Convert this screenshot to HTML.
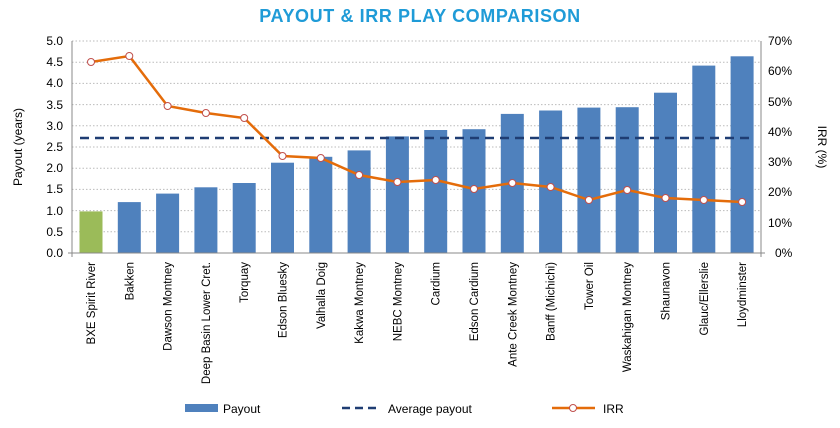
<!DOCTYPE html>
<html><head><meta charset="utf-8"><style>
body{margin:0;background:#fff;}
svg text{font-family:"Liberation Sans",sans-serif;}
</style></head><body>
<svg width="840" height="423" xmlns="http://www.w3.org/2000/svg">
<text x="420" y="22" text-anchor="middle" font-size="18" font-weight="bold" fill="#1f9bd7" letter-spacing="0.6">PAYOUT &amp; IRR PLAY COMPARISON</text>
<g id="grid" stroke="#bbb" stroke-dasharray="1.5,2" stroke-width="1">
<line x1="72" x2="761" y1="41" y2="41"/><line x1="72" x2="761" y1="62.2" y2="62.2"/><line x1="72" x2="761" y1="83.4" y2="83.4"/><line x1="72" x2="761" y1="104.6" y2="104.6"/><line x1="72" x2="761" y1="125.8" y2="125.8"/><line x1="72" x2="761" y1="147" y2="147"/><line x1="72" x2="761" y1="168.2" y2="168.2"/><line x1="72" x2="761" y1="189.4" y2="189.4"/><line x1="72" x2="761" y1="210.6" y2="210.6"/><line x1="72" x2="761" y1="231.8" y2="231.8"/>
</g>
<g fill="#4f81bd">
<rect x="79.5" y="211.4" width="23" height="41.6" fill="#9bbb59"/>
<rect x="117.8" y="202.1" width="23" height="50.9"/>
<rect x="156.1" y="193.6" width="23" height="59.4"/>
<rect x="194.4" y="187.3" width="23" height="65.7"/>
<rect x="232.7" y="183" width="23" height="70"/>
<rect x="271" y="162.7" width="23" height="90.3"/>
<rect x="309.3" y="156.8" width="23" height="96.2"/>
<rect x="347.6" y="150.4" width="23" height="102.6"/>
<rect x="385.9" y="136.4" width="23" height="116.6"/>
<rect x="424.2" y="130" width="23" height="123"/>
<rect x="462.5" y="129.2" width="23" height="123.8"/>
<rect x="500.8" y="113.9" width="23" height="139.1"/>
<rect x="539.1" y="110.5" width="23" height="142.5"/>
<rect x="577.4" y="107.6" width="23" height="145.4"/>
<rect x="615.7" y="107.2" width="23" height="145.8"/>
<rect x="654" y="92.7" width="23" height="160.3"/>
<rect x="692.3" y="65.6" width="23" height="187.4"/>
<rect x="730.6" y="56.3" width="23" height="196.7"/>
</g>
<line x1="80" x2="750" y1="138" y2="138" stroke="#1f3d73" stroke-width="2.5" stroke-dasharray="9,6"/>
<polyline fill="none" stroke="#e46c0a" stroke-width="2.5" points="91,62 129.3,56 167.6,106 205.9,113 244.2,118 282.5,156 320.8,158 359.1,175 397.4,182 435.7,180 474,189 512.3,183 550.6,187 588.9,200 627.2,190 665.5,198 703.8,200 742.1,202"/>
<g fill="#fff" stroke="#c0504d" stroke-width="1">
<circle cx="91" cy="62" r="3.5"/><circle cx="129.3" cy="56" r="3.5"/><circle cx="167.6" cy="106" r="3.5"/><circle cx="205.9" cy="113" r="3.5"/><circle cx="244.2" cy="118" r="3.5"/><circle cx="282.5" cy="156" r="3.5"/><circle cx="320.8" cy="158" r="3.5"/><circle cx="359.1" cy="175" r="3.5"/><circle cx="397.4" cy="182" r="3.5"/><circle cx="435.7" cy="180" r="3.5"/><circle cx="474" cy="189" r="3.5"/><circle cx="512.3" cy="183" r="3.5"/><circle cx="550.6" cy="187" r="3.5"/><circle cx="588.9" cy="200" r="3.5"/><circle cx="627.2" cy="190" r="3.5"/><circle cx="665.5" cy="198" r="3.5"/><circle cx="703.8" cy="200" r="3.5"/><circle cx="742.1" cy="202" r="3.5"/>
</g>
<g stroke="#888" stroke-width="1">
<line x1="72" x2="72" y1="41" y2="257"/><line x1="761" x2="761" y1="41" y2="257"/><line x1="68" x2="765" y1="253" y2="253"/>
</g>
<g font-size="12" fill="#000" text-anchor="end">
<text x="63" y="45">5.0</text><text x="63" y="66">4.5</text><text x="63" y="87">4.0</text><text x="63" y="109">3.5</text><text x="63" y="130">3.0</text><text x="63" y="151">2.5</text><text x="63" y="172">2.0</text><text x="63" y="193">1.5</text><text x="63" y="215">1.0</text><text x="63" y="236">0.5</text><text x="63" y="257">0.0</text>
</g>
<g font-size="12" fill="#000">
<text x="768" y="45">70%</text><text x="768" y="75">60%</text><text x="768" y="106">50%</text><text x="768" y="136">40%</text><text x="768" y="166">30%</text><text x="768" y="196">20%</text><text x="768" y="227">10%</text><text x="775" y="257">0%</text>
</g>
<text transform="translate(22,147) rotate(-90)" font-size="12" text-anchor="middle">Payout (years)</text>
<text transform="translate(818,147) rotate(90)" font-size="12" text-anchor="middle">IRR (%)</text>
<g font-size="11.5" text-anchor="end">
<text transform="translate(95,262) rotate(-90)">BXE Spirit River</text>
<text transform="translate(133.3,262) rotate(-90)">Bakken</text>
<text transform="translate(171.6,262) rotate(-90)">Dawson Montney</text>
<text transform="translate(209.9,262) rotate(-90)">Deep Basin Lower Cret.</text>
<text transform="translate(248.2,262) rotate(-90)">Torquay</text>
<text transform="translate(286.5,262) rotate(-90)">Edson Bluesky</text>
<text transform="translate(324.8,262) rotate(-90)">Valhalla Doig</text>
<text transform="translate(363.1,262) rotate(-90)">Kakwa Montney</text>
<text transform="translate(401.4,262) rotate(-90)">NEBC Montney</text>
<text transform="translate(439.7,262) rotate(-90)">Cardium</text>
<text transform="translate(478,262) rotate(-90)">Edson Cardium</text>
<text transform="translate(516.3,262) rotate(-90)">Ante Creek Montney</text>
<text transform="translate(554.6,262) rotate(-90)">Banff (Michichi)</text>
<text transform="translate(592.9,262) rotate(-90)">Tower Oil</text>
<text transform="translate(631.2,262) rotate(-90)">Waskahigan Montney</text>
<text transform="translate(669.5,262) rotate(-90)">Shaunavon</text>
<text transform="translate(707.8,262) rotate(-90)">Glauc/Ellerslie</text>
<text transform="translate(746.1,262) rotate(-90)">Lloydminster</text>
</g>
<rect x="185" y="404" width="33" height="8" fill="#4f81bd"/>
<text x="223" y="413" font-size="12">Payout</text>
<line x1="342" x2="380" y1="408" y2="408" stroke="#1f3d73" stroke-width="2.5" stroke-dasharray="8,5"/>
<text x="388" y="413" font-size="12">Average payout</text>
<line x1="552" x2="595" y1="408" y2="408" stroke="#e46c0a" stroke-width="2.5"/>
<circle cx="573" cy="408" r="3.5" fill="#fff" stroke="#c0504d"/>
<text x="603" y="413" font-size="12">IRR</text>
</svg>
</body></html>
